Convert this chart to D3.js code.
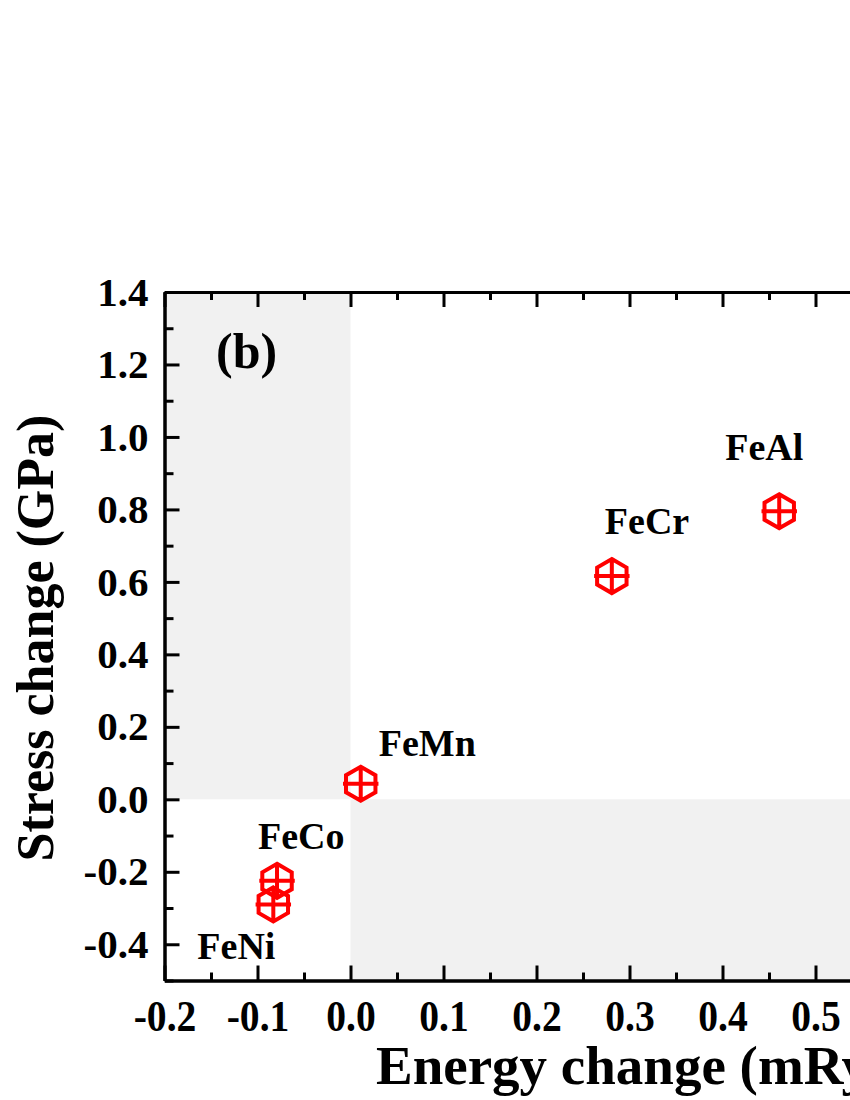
<!DOCTYPE html>
<html>
<head>
<meta charset="utf-8">
<script src="https://cdn.jsdelivr.net/npm/d3@7"></script>
<style>
  html, body { margin: 0; padding: 0; background: #fff; }
  svg { display: block; }
  text { font-family: "Liberation Serif", "Times New Roman", serif; font-weight: bold; fill: #000; }
</style>
</head>
<body>
<svg id="chart" width="850" height="1100"></svg>
<script>
// ---- data ----
const alloys = ["FeCo", "FeNi", "FeMn", "FeCr", "FeAl"];
const energyChange = [-0.079, -0.083, 0.011, 0.281, 0.461];   // mRy
const stressChange = [-0.225, -0.290, 0.043, 0.616, 0.795];    // GPa
const xMajorTicks = [-0.2, -0.1, 0.0, 0.1, 0.2, 0.3, 0.4, 0.5, 0.6, 0.7];
const xTickLabels = ["-0.2", "-0.1", "0.0", "0.1", "0.2", "0.3", "0.4", "0.5", "", ""];
const yMajorTicks = [-0.4, -0.2, 0.0, 0.2, 0.4, 0.6, 0.8, 1.0, 1.2, 1.4];
const yTickLabels = ["-0.4", "-0.2", "0.0", "0.2", "0.4", "0.6", "0.8", "1.0", "1.2", "1.4"];
const xTitle = "Energy change (mRy)";
const yTitle = "Stress change (GPa)";
const panelLabel = "(b)";

// ---- layout (pixel offsets of each label from its marker) ----
const labelOffsets = {
  FeCo: [-19, -32], FeNi: [-76, 55], FeMn: [18, -28], FeCr: [-7, -42], FeAl: [-54, -51]
};

const svg = d3.select("#chart");
const mLeft = 164.5, mTop = 292, mBottom = 980.5;
const x = d3.scaleLinear().domain([-0.2, 0.7]).range([mLeft, mLeft + 930 * 0.9]);
const y = d3.scaleLinear().domain([-0.5, 1.4]).range([mBottom, mTop]);
const mRight = x(0.7);

// shaded quadrants
svg.append("rect").attr("x", x(-0.2)).attr("y", y(1.4))
  .attr("width", x(0) - x(-0.2)).attr("height", y(0) - y(1.4)).attr("fill", "#f1f1f1");
svg.append("rect").attr("x", x(0)).attr("y", y(0))
  .attr("width", x(0.7) - x(0)).attr("height", y(-0.5) - y(0)).attr("fill", "#f1f1f1");

const xFmt = v => xTickLabels[xMajorTicks.indexOf(v)];
const yFmt = v => yTickLabels[yMajorTicks.indexOf(v)];
const xMinor = d3.range(-0.15, 0.7, 0.1).map(v => +v.toFixed(2));
const yMinor = d3.range(-0.5, 1.4, 0.2).map(v => +v.toFixed(2));

function styleAxis(g) {
  g.select(".domain").attr("stroke", "#000").attr("stroke-width", 3);
  g.selectAll(".tick line").attr("stroke", "#000").attr("stroke-width", 3);
}

// bottom axis
const gB = svg.append("g").attr("transform", `translate(0,${mBottom})`)
  .call(d3.axisBottom(x).tickValues(xMajorTicks).tickSize(-15).tickSizeOuter(0).tickPadding(19).tickFormat(xFmt));
gB.call(styleAxis);
gB.selectAll(".tick text").attr("font-size", 44).attr("transform", "scale(0.9,1)");
svg.append("g").attr("transform", `translate(0,${mBottom})`)
  .call(d3.axisBottom(x).tickValues(xMinor).tickSize(-8).tickSizeOuter(0).tickFormat(""))
  .call(styleAxis);

// top axis
const gT = svg.append("g").attr("transform", `translate(0,${mTop})`)
  .call(d3.axisTop(x).tickValues(xMajorTicks).tickSize(-15).tickSizeOuter(0).tickFormat(""));
gT.call(styleAxis);
svg.append("g").attr("transform", `translate(0,${mTop})`)
  .call(d3.axisTop(x).tickValues(xMinor).tickSize(-8).tickSizeOuter(0).tickFormat(""))
  .call(styleAxis);

// left axis
const gL = svg.append("g").attr("transform", `translate(${mLeft},0)`)
  .call(d3.axisLeft(y).tickValues(yMajorTicks).tickSize(-15).tickSizeOuter(0).tickPadding(16).tickFormat(yFmt));
gL.call(styleAxis);
gL.selectAll(".tick text").attr("font-size", 41);
svg.append("g").attr("transform", `translate(${mLeft},0)`)
  .call(d3.axisLeft(y).tickValues(yMinor).tickSize(-9).tickSizeOuter(0).tickFormat(""))
  .call(styleAxis);

// right axis
const gR = svg.append("g").attr("transform", `translate(${mRight},0)`)
  .call(d3.axisRight(y).tickValues(yMajorTicks).tickSize(-15).tickSizeOuter(0).tickFormat(""));
gR.call(styleAxis);

// titles
svg.append("text").attr("x", 376).attr("y", 1084).attr("font-size", 55).text(xTitle);
svg.append("text").attr("transform", `translate(53,638) rotate(-90)`)
  .attr("text-anchor", "middle").attr("font-size", 52).text(yTitle);
svg.append("text").attr("x", 216).attr("y", 368).attr("font-size", 50).text(panelLabel);

// markers
const r = 17, hw = r * Math.cos(Math.PI / 6);
const markerPath = `M0,${-r}L${hw},${-r / 2}L${hw},${r / 2}L0,${r}L${-hw},${r / 2}L${-hw},${-r / 2}Z` +
  `M${-hw - 3},0H${hw + 3}M0,${-r}V${r}`;
const pts = alloys.map((a, i) => ({ name: a, e: energyChange[i], s: stressChange[i] }));
svg.append("g").selectAll("path").data(pts).join("path")
  .attr("transform", d => `translate(${x(d.e)},${y(d.s)})`)
  .attr("d", markerPath).attr("fill", "none").attr("stroke", "#ff0000")
  .attr("stroke-width", 4).attr("stroke-linejoin", "miter");

svg.append("g").selectAll("text").data(pts).join("text")
  .attr("x", d => x(d.e) + labelOffsets[d.name][0])
  .attr("y", d => y(d.s) + labelOffsets[d.name][1])
  .attr("font-size", 38).text(d => d.name);
</script>
</body>
</html>
